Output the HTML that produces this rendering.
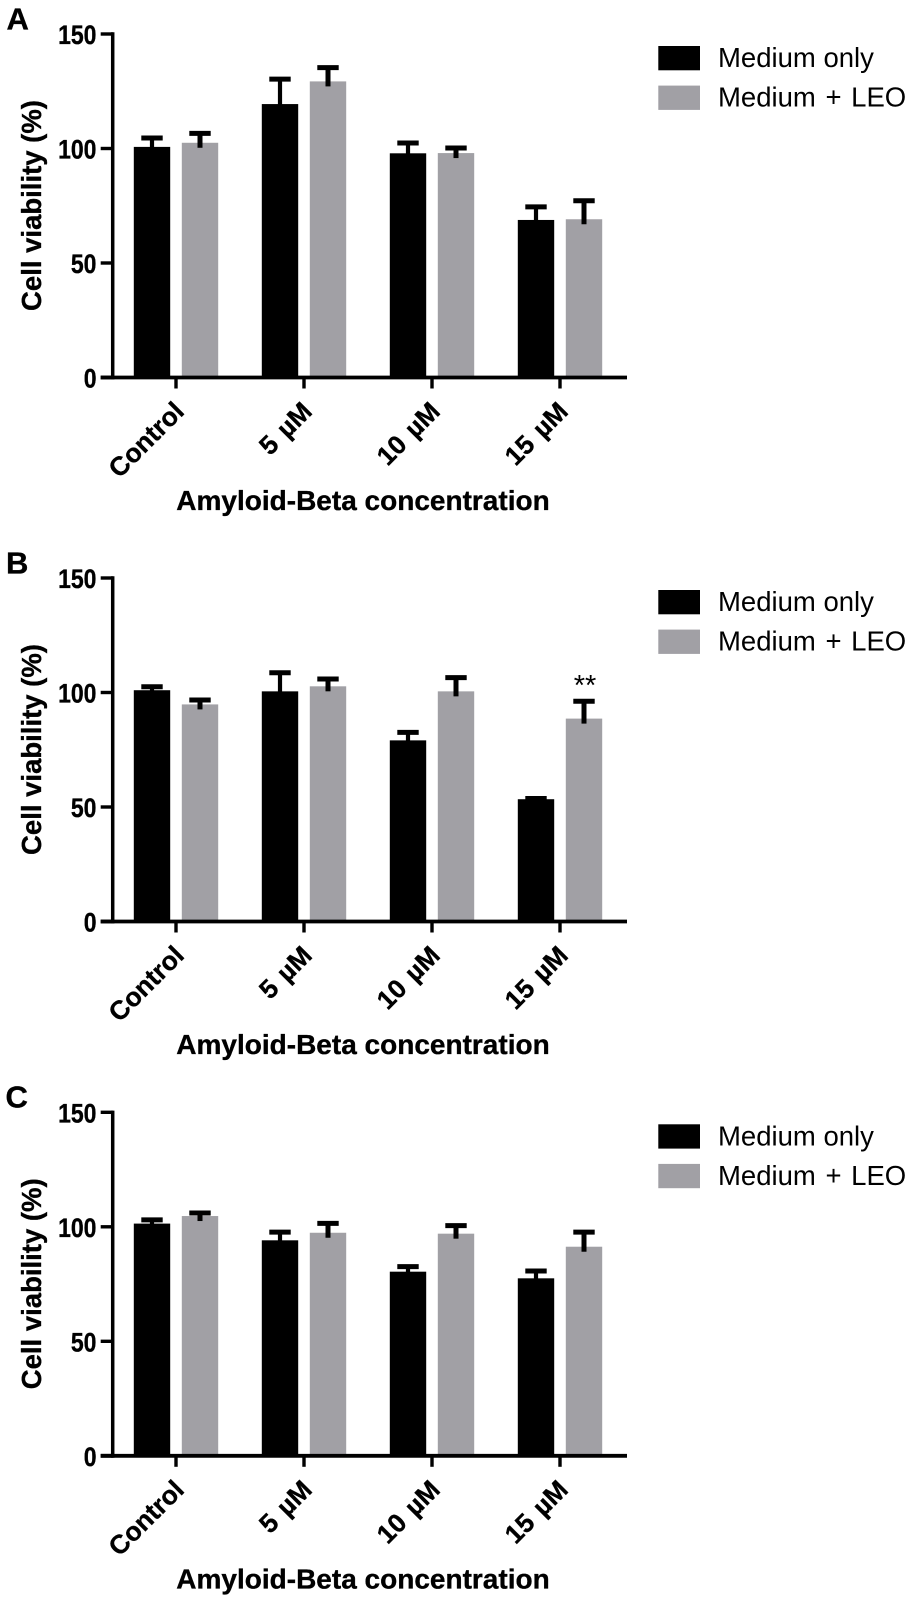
<!DOCTYPE html>
<html lang="en">
<head>
<meta charset="utf-8">
<title>Cell viability by Amyloid-Beta concentration</title>
<style>
  html, body { margin: 0; padding: 0; background: #fff; }
  #figure { display: block; width: 911px; height: 1600px; }
  text { font-family: "Liberation Sans", Arial, sans-serif; fill: #000; }
  .bold { font-weight: 700; stroke: #000; stroke-width: 0.35px; }
</style>
</head>
<body>
<svg id="figure" xmlns="http://www.w3.org/2000/svg" width="911" height="1600" viewBox="0 0 911 1600"></svg>
<script>
const categories = ['Control', '5 µM', '10 µM', '15 µM'];
const yTicks = [0, 50, 100, 150];
const seriesNames = ['Medium only', 'Medium + LEO'];

const panelAMedium = [100.7, 119.4, 97.9, 68.8];
const panelAMediumErr = [104.6, 130.3, 102.4, 74.5];
const panelALeo = [102.5, 129.3, 98.0, 69.1];
const panelALeoErr = [106.6, 135.3, 100.2, 77.2];

const panelBMedium = [101.0, 100.5, 79.1, 53.4];
const panelBMediumErr = [102.5, 108.6, 82.6, 53.7];
const panelBLeo = [94.8, 102.7, 100.5, 88.6];
const panelBLeoErr = [96.7, 105.9, 106.5, 96.2];

const panelCMedium = [101.4, 94.1, 80.4, 77.5];
const panelCMediumErr = [103.0, 97.7, 82.6, 80.7];
const panelCLeo = [104.7, 97.4, 97.0, 91.3];
const panelCLeoErr = [106.0, 101.5, 100.5, 97.7];

const svg = document.getElementById('figure');
const NS = 'http://www.w3.org/2000/svg';
const MEDIUM_FILL = '#000000';
const LEO_FILL = '#a1a0a5';

function shape(parent, tag, props) {
  const el = document.createElementNS(NS, tag);
  for (const k in props) el.setAttribute(k, props[k]);
  parent.appendChild(el);
  return el;
}

function drawPanel(letter, top, letterX, medium, mediumErr, leo, leoErr) {
  const g = shape(svg, 'g', {});
  
  

  const yScale = v => top + 343.5 - v * (343.5 / 150);
  const xScale = i => 176 + i * 128;
  const zero = yScale(0);

  // panel letter
  const panelLabel = shape(g, 'text', { x: letterX, y: top - 4.7, 'font-size': 31, class: 'bold' });
  
  
  panelLabel.textContent = letter;

  // bars and error bars
  const groups = [
    { vals: medium, errs: mediumErr, off: -24, fill: MEDIUM_FILL, name: 'medium-only', stem: 4.2 },
    { vals: leo, errs: leoErr, off: 24, fill: LEO_FILL, name: 'medium-leo', stem: 5 }
  ];
  groups.forEach(s => {
    s.vals.forEach((v, i) => {
      const cx = xScale(i) + s.off;
      const bar = shape(g, 'rect', { x: cx - 18.2, y: yScale(v), width: 36.4, height: zero - yScale(v), fill: s.fill });
      
      

      const stem = shape(g, 'line', { x1: cx, x2: cx, y1: yScale(s.errs[i]), y2: yScale(v) + 5, stroke: '#000', 'stroke-width': s.stem });
      
      

      const cap = shape(g, 'line', { x1: cx - 10.7, x2: cx + 10.7, y1: yScale(s.errs[i]), y2: yScale(s.errs[i]), stroke: '#000', 'stroke-width': 5 });
      
      
    });
  });

  // y axis
  const yAxis = shape(g, 'line', { x1: 112.7, x2: 112.7, y1: yScale(150) - 1.7, y2: zero + 2, stroke: '#000', 'stroke-width': 3.5 });
  
  

  yTicks.forEach(t => {
    const tick = shape(g, 'line', { x1: 100.7, x2: 113, y1: yScale(t), y2: yScale(t), stroke: '#000', 'stroke-width': t === 0 ? 3.8 : 3.4 });
    
    

    const s = String(t);
    const label = shape(g, 'text', { x: 96.5, y: yScale(t) + 10, 'font-size': 27, 'text-anchor': 'end', class: 'bold',
      textLength: s.length * 12.8, lengthAdjust: 'spacingAndGlyphs' });
    
    
    label.textContent = s;
  });

  // x axis
  const xAxis = shape(g, 'line', { x1: 100.7, x2: 627, y1: zero, y2: zero, stroke: '#000', 'stroke-width': 3.8 });
  
  

  categories.forEach((c, i) => {
    const x = xScale(i);
    const tick = shape(g, 'line', { x1: x, x2: x, y1: zero, y2: zero + 11, stroke: '#000', 'stroke-width': 3.4 });
    
    

    const ax = x + 9.5, ay = zero + 35.5;
    const label = shape(g, 'text', { x: ax, y: ay, 'font-size': 26.3, 'word-spacing': i === 0 ? 0 : 2.5, 'text-anchor': 'end', class: 'bold', transform: 'rotate(-45 ' + ax + ' ' + ay + ')' });
    
    
    label.textContent = c;
  });

  // axis titles
  const yTitle = shape(g, 'text', { x: 41, y: top + 171.5, 'font-size': 27.5, 'text-anchor': 'middle', class: 'bold', transform: 'rotate(-90 41 ' + (top + 171.5) + ')' });
  
  
  yTitle.textContent = 'Cell viability (%)';

  const xTitle = shape(g, 'text', { x: 363, y: zero + 132.5, 'font-size': 28, 'text-anchor': 'middle', class: 'bold' });
  
  
  xTitle.textContent = 'Amyloid-Beta concentration';

  // legend
  const legend = shape(g, 'g', {});
  
  
  seriesNames.forEach((n, i) => {
    const swatch = shape(legend, 'rect', { x: 658.3, y: top + 12 + i * 39.6, width: 41.7, height: 24.3, fill: i === 0 ? MEDIUM_FILL : LEO_FILL });
    
    

    const text = shape(legend, 'text', { x: 718, y: top + 33 + i * 39.6, 'font-size': 27.5, 'word-spacing': i === 0 ? 0 : 2 });
    
    
    text.textContent = n;
  });

  return { g, xScale, yScale };
}

drawPanel('A', 34, 6.5, panelAMedium, panelAMediumErr, panelALeo, panelALeoErr);
const panelB = drawPanel('B', 578, 6, panelBMedium, panelBMediumErr, panelBLeo, panelBLeoErr);
drawPanel('C', 1112.3, 5.5, panelCMedium, panelCMediumErr, panelCLeo, panelCLeoErr);

const sig = shape(panelB.g, 'text', { x: panelB.xScale(3) + 25, y: panelB.yScale(96.2) - 6, 'font-size': 29, 'text-anchor': 'middle' });


sig.textContent = '**';
</script>
</body>
</html>
